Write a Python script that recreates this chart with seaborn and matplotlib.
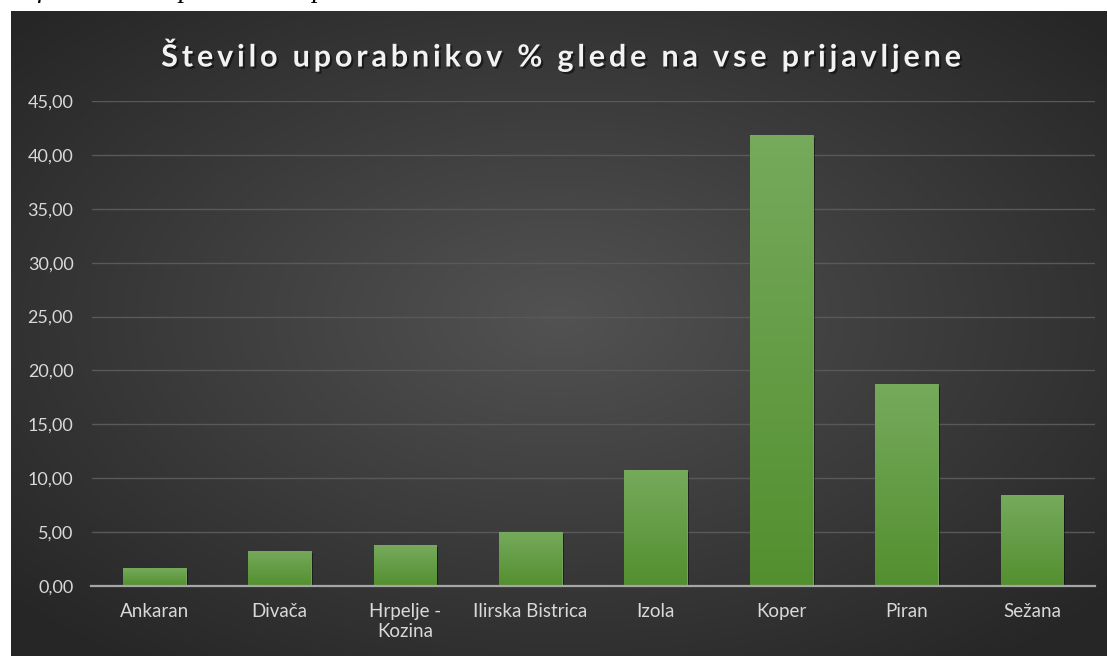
import numpy as np
import matplotlib
matplotlib.use("Agg")
import matplotlib.pyplot as plt
import matplotlib.patheffects as pe
from matplotlib.colors import LinearSegmentedColormap
from matplotlib.ticker import MultipleLocator, FuncFormatter
import seaborn as sns

# data
municipalities = ["Ankaran", "Divača", "Hrpelje -\nKozina", "Ilirska Bistrica",
                  "Izola", "Koper", "Piran", "Sežana"]
user_share = [1.65, 3.25, 3.80, 5.00, 10.80, 41.80, 18.75, 8.40]

title = "Število uporabnikov % glede na vse prijavljene"
caption = "Graf 4: Število uporabnikov po občinah"

sns.set_theme(style="dark")
plt.rcParams["font.family"] = ["Lato", "DejaVu Sans"]

W, H = 1108, 656
fig = plt.figure(figsize=(W / 100, H / 100), dpi=100, facecolor="white")

# dark radial background panel
bg = fig.add_axes([11 / W, 0, (1107 - 11) / W, (656 - 11) / H])
bg.set_axis_off()
gx, gy = np.meshgrid(np.linspace(-1, 1, 500), np.linspace(-1, 1, 300))
r = np.sqrt(gx ** 2 + (gy + 0.05) ** 2) / 1.35
r = np.clip(r, 0, 1)
bg_cmap = LinearSegmentedColormap.from_list("bg", ["#525252", "#3c3c3c", "#262626"])
bg.imshow(r, cmap=bg_cmap, extent=[0, 1, 0, 1], aspect="auto", vmin=0, vmax=1)
bg.set_xlim(0, 1)
bg.set_ylim(0, 1)

# caption, cut off at the top edge as in the reference
fig.text(-0.006, 1 + 3 / H, caption, ha="left", va="baseline", fontsize=20,
         fontstyle="italic", family=["Liberation Serif", "DejaVu Serif"], color="black")

ax = fig.add_axes([91.5 / W, 70 / H, (1094.7 - 91.5) / W, (586 - 101) / H])
ax.set_facecolor("none")

sns.barplot(x=municipalities, y=user_share, color="#5f9b3e", width=0.5,
            saturation=1, ax=ax, zorder=3)

bar_cmap = LinearSegmentedColormap.from_list("bar", ["#538f2f", "#76aa5c"])
grad = np.linspace(0, 1, 256).reshape(-1, 1)
for p in ax.patches:
    x, y = p.get_x(), p.get_y()
    w, h = p.get_width(), p.get_height()
    p.set_edgecolor("#7fb366")
    p.set_linewidth(0.6)
    p.set_path_effects([pe.SimplePatchShadow(offset=(1.5, -1.5), shadow_rgbFace="black", alpha=0.45),
                        pe.Normal()])
    im = ax.imshow(grad, cmap=bar_cmap, extent=[x, x + w, y, y + h], origin="lower",
                   aspect="auto", zorder=4)
    im.set_clip_path(p)

ax.set_xlim(-0.5, len(municipalities) - 0.5)
ax.set_ylim(0, 45)
ax.yaxis.set_major_locator(MultipleLocator(5))
ax.yaxis.set_major_formatter(FuncFormatter(lambda v, _: f"{v:.2f}".replace(".", ",")))

ax.grid(axis="y", color="#595959", linewidth=1.0, zorder=0)
ax.grid(axis="x", visible=False)
for s in ["top", "right", "left"]:
    ax.spines[s].set_visible(False)
ax.spines["bottom"].set_color("#a6a6a6")
ax.spines["bottom"].set_linewidth(1.6)
ax.spines["bottom"].set_zorder(6)
ax.tick_params(axis="y", length=0, pad=13, labelsize=13, labelcolor="#d9d9d9")
ax.tick_params(axis="x", length=0, pad=12, labelsize=13.5, labelcolor="#d9d9d9")
for lbl in ax.get_xticklabels():
    lbl.set_linespacing(1.25)
ax.set_xlabel("")
ax.set_ylabel("")

# spaced-out title like the reference
spaced_title = "\u2009".join(title)
fig.text(562 / W, 1 - 55 / H, spaced_title, ha="center", va="center", fontsize=22,
         fontweight="bold", color="#f2f2f2",
         path_effects=[pe.withSimplePatchShadow(offset=(1.5, -1.5), shadow_rgbFace="black", alpha=0.5)])

fig.savefig("out.png", dpi=100, facecolor="white")
